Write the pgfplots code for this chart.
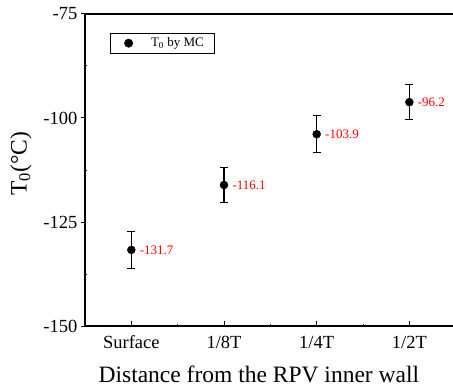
\documentclass[border=0pt]{standalone}
\usepackage{pgfplots}
\pgfplotsset{compat=1.18}
\usepackage{fontspec}
\setmainfont{Liberation Serif}
\pgfplotstableread{
x y err
0 -131.7 4.5
1 -116.1 4.3
2 -103.9 4.5
3 -96.2 4.2
}\mcdata
\begin{document}
\begin{tikzpicture}
\begin{axis}[
  scale only axis,
  width=370.7bp, height=312bp,
  xmin=-0.5, xmax=3.5, ymin=-150, ymax=-75,
  axis x line*=bottom, axis y line*=left,
  axis line style={line width=1.3bp},
  clip=false,
  xtick={0,1,2,3}, xticklabels={Surface,1/8T,1/4T,1/2T},
  ytick={-150,-125,-100,-75},
  minor x tick num=1, minor y tick num=1,
  tick align=inside,
  major tick length=5bp, minor tick length=2.5bp,
  tick style={line width=1bp, black},
  major y tick style={xshift=-3.5bp},
  /pgf/number format/assume math mode=true,
  ticklabel style={font=\fontsize{18.5bp}{20bp}\selectfont},
  xticklabel style={anchor=base, yshift=-22bp},
  yticklabel style={anchor=east, inner sep=0pt, xshift=-7.5bp},
  xlabel={Distance from the RPV inner wall},
  xlabel style={font=\fontsize{23.5bp}{26bp}\selectfont, at={(axis description cs:0.469,0)}, anchor=base, yshift=-56bp},
  ylabel={T\textsubscript{0}(°C)},
  ylabel style={font=\fontsize{23.5bp}{26bp}\selectfont, at={(axis description cs:-0.173,0.52)}, anchor=center, rotate=0},
  legend style={at={(axis description cs:0.067,0.939)}, anchor=north west, draw=black, line width=0.8bp,
    font=\fontsize{13bp}{14bp}\selectfont, inner xsep=6bp, inner ysep=2.5bp},
  legend image code/.code={\path (0bp,0bp) (32bp,0bp); \draw[#1] plot coordinates {(12bp,0bp)};},
  legend cell align=left,
]
\addplot[only marks, mark=*, mark size=4bp, black,
  error bars/.cd, y dir=both, y explicit,
  error bar style={line width=1.1bp, black},
  error mark options={rotate=90, mark size=4bp, line width=0.9bp, black}]
  table[x=x, y=y, y error=err] {\mcdata};
\addlegendentry{T\textsubscript{0} by MC\kern3bp}
\addplot[only marks, mark=none, forget plot,
  nodes near coords, point meta=y,
  nodes near coords style={anchor=west, xshift=5bp, text=red, font=\fontsize{13bp}{14bp}\selectfont,
    /pgf/number format/.cd, fixed, precision=1, fixed zerofill, assume math mode=true}]
  table[x=x, y=y] {\mcdata};
\draw[line width=1.3bp] (rel axis cs:0,1) -- (rel axis cs:1,1);
\end{axis}
\pgfresetboundingbox
\path[use as bounding box] (-85bp,-65bp) rectangle (368bp,326bp);
\end{tikzpicture}
\end{document}
